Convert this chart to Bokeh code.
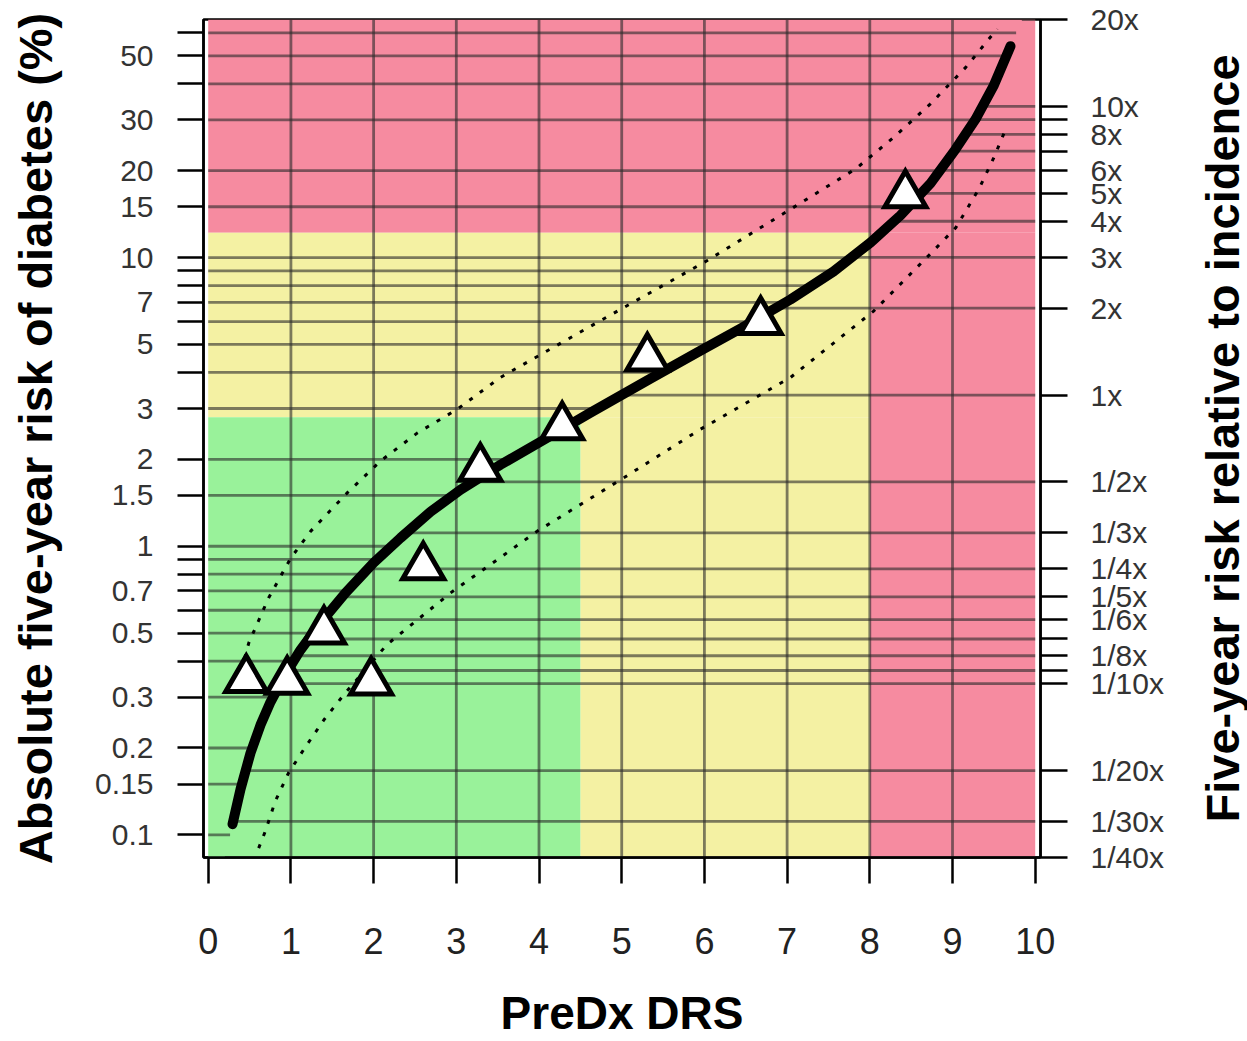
import math
import numpy as np
from bokeh.plotting import figure
from bokeh.layouts import row
from bokeh.models import LogAxis, FixedTicker, Range1d
from bokeh.core.properties import value
from bokeh.embed import file_html
from bokeh.resources import INLINE

# ---------------- data ----------------
incidence = 3.34  # five-year incidence (%) that corresponds to "1x"

score_obs = [0.46, 0.955, 1.40, 1.97, 2.60, 3.29, 4.28, 5.31, 6.68, 8.43]
risk_obs = [0.345, 0.34, 0.508, 0.338, 0.848, 1.86, 2.59, 4.48, 6.0, 16.5]

curve_x = [0.294, 0.391, 0.511, 0.632, 0.753, 0.935, 1.116, 1.358, 1.660, 1.999, 2.326,
           2.688, 3.051, 3.534, 4.018, 4.623, 5.348, 5.953, 6.436, 7.041, 7.561, 8.009,
           8.371, 8.734, 9.036, 9.278, 9.495, 9.701]
curve_y = [0.1089, 0.1440, 0.1920, 0.2401, 0.2886, 0.3609, 0.4372, 0.5424, 0.6894, 0.8757,
           1.069, 1.316, 1.569, 1.915, 2.302, 2.902, 3.807, 4.762, 5.677, 7.155, 8.951,
           11.28, 14.00, 18.07, 23.71, 30.13, 39.23, 53.98]

upper_x = [0.40, 0.49, 0.73, 1.00, 1.24, 1.68, 2.08, 2.53, 3.01, 3.53, 4.74, 6.03,
           7.04, 7.83, 8.29, 8.73, 9.16, 9.54]
upper_y = [0.37, 0.462, 0.662, 0.912, 1.128, 1.53, 1.97, 2.47, 2.98, 3.84, 6.04, 9.75,
           14.7, 20.3, 26.1, 34.0, 45.6, 62.0]

lower_x = [0.61, 0.69, 0.81, 0.97, 1.18, 1.40, 1.64, 2.16, 2.93, 3.98, 5.03, 5.95,
           7.04, 8.05, 8.77, 9.04, 9.32, 9.50, 9.66]
lower_y = [0.090, 0.1028, 0.1306, 0.1637, 0.2026, 0.2505, 0.306, 0.456, 0.689, 1.128,
           1.73, 2.54, 3.84, 6.54, 10.56, 12.7, 17.3, 22.2, 28.6]

# risk zones (score bounds and risk bounds)
green_top = 2.8
yellow_top = 12.2
green_right = 4.5
yellow_right = 8.0

x_ticks = [0, 1, 2, 3, 4, 5, 6, 7, 8, 9, 10]
left_ticks = [0.1, 0.15, 0.2, 0.3, 0.4, 0.5, 0.6, 0.7, 0.8, 0.9, 1, 1.5, 2, 3, 4, 5, 6,
              7, 8, 9, 10, 15, 20, 30, 40, 50, 60]
left_labels = ["0.1", "0.15", "0.2", "0.3", "", "0.5", "", "0.7", "", "", "1", "1.5", "2",
               "3", "", "5", "", "7", "", "", "10", "15", "20", "30", "", "50", ""]
rel_mult = [20, 10, 9, 8, 7, 6, 5, 4, 3, 2, 1, 1/2, 1/3, 1/4, 1/5, 1/6, 1/7, 1/8, 1/9,
            1/10, 1/20, 1/30, 1/40]
rel_labels = ["20x", "10x", "", "8x", "", "6x", "5x", "4x", "3x", "2x", "1x", "1/2x",
              "1/3x", "1/4x", "1/5x", "1/6x", "", "1/8x", "", "1/10x", "1/20x", "1/30x",
              "1/40x"]
right_title = "Five-year risk relative to incidence"

# ---------------- derived ----------------
ymin = incidence * rel_mult[-1]
ymax = incidence * rel_mult[0]
right_ticks = [incidence * m for m in rel_mult]

lcx = np.array(curve_x)
lcy = np.log10(np.array(curve_y))


def x_on_curve(v):
    lv = math.log10(v)
    if lv <= lcy[0]:
        s = (lcx[1] - lcx[0]) / (lcy[1] - lcy[0])
        return float(lcx[0] + (lv - lcy[0]) * s)
    if lv >= lcy[-1]:
        s = (lcx[-1] - lcx[-2]) / (lcy[-1] - lcy[-2])
        return float(lcx[-1] + (lv - lcy[-1]) * s)
    return float(np.interp(lv, lcy, lcx))


PINK = "#f68ba0"
YELLOW = "#f4f1a3"
GREEN = "#99f29a"
FONT = "Liberation Sans"

W_MAIN = 1190
W_SIDE = 1247 - W_MAIN
H = 1041

p = figure(width=W_MAIN, height=H,
           x_range=Range1d(-0.057, 10.064), y_range=Range1d(ymin, ymax),
           y_axis_type="log", output_backend="svg", toolbar_location=None,
           min_border_left=203, min_border_right=W_MAIN - 1040, min_border_top=19,
           min_border_bottom=184)
p.title.visible = False
p.xgrid.visible = False
p.ygrid.visible = False
p.background_fill_color = "white"
p.border_fill_color = "white"
p.outline_line_color = "black"
p.outline_line_width = 2.5

# zones
p.quad(left=[x_ticks[0], yellow_right, x_ticks[0], green_right, x_ticks[0]],
       right=[x_ticks[-1], x_ticks[-1], yellow_right, yellow_right, green_right],
       bottom=[yellow_top, ymin, green_top, ymin, ymin],
       top=[ymax, yellow_top, yellow_top, green_top, green_top],
       fill_color=[PINK, PINK, YELLOW, YELLOW, GREEN], line_color=None)

# nomogram grid: left ticks run from the left edge to the curve,
# right ticks from the curve to the right edge
gx0, gx1, gy = [], [], []
for v in left_ticks:
    gx0.append(x_ticks[0]); gx1.append(min(x_on_curve(v), x_ticks[-1])); gy.append(v)
for v in right_ticks:
    gx0.append(max(x_on_curve(v), x_ticks[0])); gx1.append(x_ticks[-1]); gy.append(v)
p.segment(x0=gx0, x1=gx1, y0=gy, y1=gy, line_color="#2a2a2a", line_alpha=0.6,
          line_width=2.8)
vx = x_ticks[1:-1]
p.segment(x0=vx, x1=vx, y0=[ymin] * len(vx), y1=[ymax] * len(vx), line_color="#2a2a2a",
          line_alpha=0.6, line_width=2.8)

# confidence bands
p.line(upper_x, upper_y, line_color="black", line_width=3, line_dash="4 9")
p.line(lower_x, lower_y, line_color="black", line_width=3, line_dash="4 9")
# fitted curve
p.line(curve_x, curve_y, line_color="black", line_width=10, line_cap="round",
       line_join="round")
# observed
p.scatter(score_obs, risk_obs, marker="triangle", size=41, fill_color="white",
          line_color="black", line_width=5, line_join="miter")

# bottom axis
xa = p.xaxis[0]
xa.ticker = FixedTicker(ticks=x_ticks)
xa.axis_label = "PreDx DRS"
xa.axis_label_text_font = FONT
xa.axis_label_text_font_style = "bold"
xa.axis_label_text_font_size = "46px"
xa.axis_label_text_color = "black"
xa.axis_label_standoff = 30
xa.major_label_text_font = FONT
xa.major_label_text_font_size = "36px"
xa.major_label_text_color = "#222222"
xa.major_label_standoff = 44
xa.major_tick_in = 0
xa.major_tick_out = 26
xa.major_tick_line_width = 2.5
xa.minor_tick_line_color = None
xa.axis_line_width = 2.5

# left axis
ya = p.yaxis[0]
ya.ticker = FixedTicker(ticks=left_ticks)
ya.major_label_overrides = {v: s for v, s in zip(left_ticks, left_labels)}
ya.axis_label = "Absolute five-year risk of diabetes (%)"
ya.axis_label_text_font = FONT
ya.axis_label_text_font_style = "bold"
ya.axis_label_text_font_size = "47px"
ya.axis_label_text_color = "black"
ya.axis_label_standoff = 30
ya.major_label_text_font = FONT
ya.major_label_text_font_size = "30px"
ya.major_label_text_color = "#333333"
ya.major_label_standoff = 24
ya.major_tick_in = 0
ya.major_tick_out = 26
ya.major_tick_line_width = 2.5
ya.minor_tick_line_color = None
ya.axis_line_width = 2.5

# right axis
ra = LogAxis(ticker=FixedTicker(ticks=right_ticks))
ra.major_label_overrides = {v: s for v, s in zip(right_ticks, rel_labels)}
ra.major_label_text_font = FONT
ra.major_label_text_font_size = "30px"
ra.major_label_text_color = "#333333"
ra.major_label_standoff = 23
ra.major_tick_in = 0
ra.major_tick_out = 27
ra.major_tick_line_width = 2.5
ra.minor_tick_line_color = None
ra.axis_line_width = 2.5
p.add_layout(ra, "right")

# right-hand axis title (reads bottom-to-top, as in the reference),
# in a narrow companion figure whose frame is aligned with the main one
side = figure(width=W_SIDE, height=H, x_range=Range1d(0, W_SIDE), y_range=Range1d(0, H),
              x_axis_location=None, y_axis_location=None, output_backend="svg",
              toolbar_location=None, min_border=0, min_border_left=0, min_border_right=0,
              min_border_top=0, min_border_bottom=0)
side.title.visible = False
side.xgrid.visible = False
side.ygrid.visible = False
side.outline_line_color = None
side.background_fill_color = "white"
side.border_fill_color = "white"
side.text(x=[W_SIDE / 2 + 3], y=[H / 2], text=[right_title], angle=math.pi / 2,
          text_align="center", text_baseline="middle", text_font=value(FONT),
          text_font_style="bold", text_font_size="47px", text_color="black")

layout = row(p, side)
open("out.html", "w").write(file_html(layout, INLINE))
